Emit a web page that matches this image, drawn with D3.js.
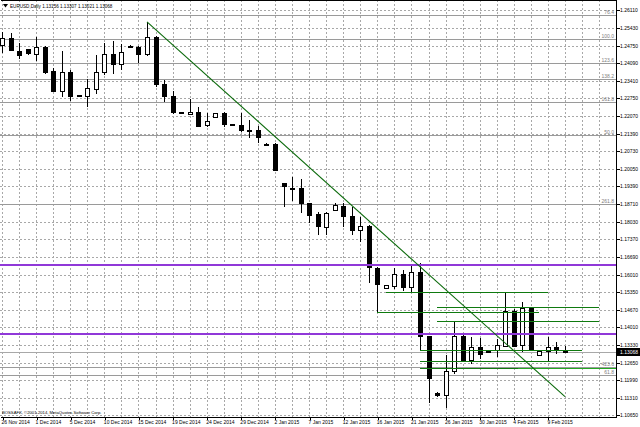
<!DOCTYPE html>
<html>
<head>
<meta charset="utf-8">
<script src="https://cdn.jsdelivr.net/npm/d3@7"></script>
<style>
	body { margin: 0; background: #fff; }
	svg text { font-family: "Liberation Sans", Arial, sans-serif; font-size: 5px; fill: #000; }
	.fibo text { fill: #808080; }
</style>
</head>
<body>
<div id="chart"></div>
<script>

// one bar per trading day (sunday bars included), 26 Nov 2014 - 11 Feb 2015
var dates = ["2014-11-26","2014-11-27","2014-11-28","2014-11-30","2014-12-01","2014-12-02","2014-12-03","2014-12-04","2014-12-05","2014-12-07",
	"2014-12-08","2014-12-09","2014-12-10","2014-12-11","2014-12-12","2014-12-14","2014-12-15","2014-12-16","2014-12-17","2014-12-18",
	"2014-12-19","2014-12-21","2014-12-22","2014-12-23","2014-12-24","2014-12-25","2014-12-26","2014-12-28","2014-12-29","2014-12-30",
	"2014-12-31","2015-01-01","2015-01-02","2015-01-04","2015-01-05","2015-01-06","2015-01-07","2015-01-08","2015-01-09","2015-01-11",
	"2015-01-12","2015-01-13","2015-01-14","2015-01-15","2015-01-16","2015-01-18","2015-01-19","2015-01-20","2015-01-21","2015-01-22",
	"2015-01-23","2015-01-25","2015-01-26","2015-01-27","2015-01-28","2015-01-29","2015-01-30","2015-02-01","2015-02-02","2015-02-03",
	"2015-02-04","2015-02-05","2015-02-06","2015-02-08","2015-02-09","2015-02-10","2015-02-11"];

var opens = [1.2478,1.2503,1.2456,1.2461,1.2442,1.2471,1.2379,1.2303,1.2376,1.2285,
	1.2280,1.2312,1.2376,1.2443,1.2405,1.2474,1.2471,1.2446,1.2509,1.2329,
	1.2284,1.2221,1.2217,1.2223,1.2172,1.2202,1.2219,1.2177,1.2172,1.2154,
	1.2153,1.2101,1.2100,1.1952,1.1932,1.1931,1.1874,1.1833,1.1784,1.1848,
	1.1863,1.1825,1.1772,1.1787,1.1626,1.1552,1.1559,1.1604,1.1553,1.1610,
	1.1367,1.1151,1.1142,1.1235,1.1367,1.1276,1.1324,1.1312,1.1314,1.1332,
	1.1464,1.1332,1.1473,1.1295,1.1308,1.1324,1.13156];

var highs = [1.2527,1.2522,1.2486,1.2464,1.2507,1.2474,1.2389,1.2456,1.2382,1.2287,
	1.2347,1.2439,1.2484,1.2494,1.2481,1.2476,1.2474,1.2566,1.2512,1.2344,
	1.2303,1.2222,1.2270,1.2242,1.2217,1.2218,1.2222,1.2178,1.2217,1.2191,
	1.2169,1.2102,1.2102,1.1953,1.1973,1.1965,1.1875,1.1842,1.1842,1.1874,
	1.1874,1.1861,1.1823,1.1789,1.1631,1.1562,1.1626,1.1619,1.1638,1.1647,
	1.1367,1.1155,1.1295,1.1422,1.1378,1.1365,1.1359,1.1314,1.1355,1.1533,
	1.1469,1.1496,1.1479,1.1312,1.1362,1.1346,1.13307];

var lows = [1.2447,1.2455,1.2423,1.2441,1.2418,1.2367,1.2299,1.2280,1.2265,1.2281,
	1.2240,1.2291,1.2363,1.2367,1.2382,1.2470,1.2410,1.2436,1.2318,1.2261,
	1.2214,1.2218,1.2214,1.2164,1.2166,1.2201,1.2166,1.2174,1.2147,1.2122,
	1.2105,1.2098,1.1997,1.1861,1.1884,1.1836,1.1797,1.1753,1.1753,1.1846,
	1.1784,1.1753,1.1727,1.1568,1.1460,1.1551,1.1546,1.1540,1.1536,1.1314,
	1.1113,1.1136,1.1092,1.1223,1.1268,1.1261,1.1279,1.1308,1.1286,1.1327,
	1.1329,1.1306,1.1310,1.1294,1.1273,1.1299,1.13021];

var closes = [1.2503,1.2456,1.2439,1.2444,1.2469,1.2376,1.2303,1.2376,1.2283,1.2283,
	1.2312,1.2376,1.2443,1.2404,1.2452,1.2472,1.2446,1.2509,1.2331,1.2284,
	1.2223,1.2219,1.2223,1.2169,1.2189,1.2217,1.2176,1.2176,1.2153,1.2153,
	1.2125,1.2100,1.2001,1.1940,1.1931,1.1874,1.1829,1.1787,1.1838,1.1867,
	1.1825,1.1772,1.1787,1.1630,1.1566,1.1562,1.1604,1.1556,1.1610,1.1367,
	1.1208,1.1144,1.1235,1.1367,1.1272,1.1324,1.1299,1.1311,1.1332,1.1464,
	1.1332,1.1473,1.1314,1.1311,1.1324,1.1314,1.13068];

// price scale labels
var priceTicks = [1.26110,1.25430,1.24750,1.24090,1.23410,1.22750,1.22070,1.21390,1.20730,1.20050,1.19390,1.18710,
	1.18030,1.17370,1.16690,1.16010,1.15350,1.14670,1.14010,1.13330,1.12650,1.11990,1.11310,1.10650];

// fibo levels (gray) and their labels
var fiboPrices = [1.25919,1.24992,1.24077,1.23489,1.22612,1.21342,1.18710,1.12481,1.12176];
var fiboLabels = ["76.4","100.0","123.6","138.2","161.8","50.0","261.8","423.6","61.8"];

// horizontal support / resistance lines
var purplePrices = [1.16372,1.13751];
var greenPrices = [1.15365,1.14769,1.14600,1.14247,1.13141,1.12722,1.12472,1.12472];
var greenFrom   = [45,51,44,51,49,49,49,60.5];
var greenTo     = [64,70,63,70,68,68,60.5,72];
var greenColors = ["#0f7a0f","#0f7a0f","#0f7a0f","#0f7a0f","#0f7a0f","#0f7a0f","#0f7a0f","#22a822"];

// trend line from the 16 Dec high down to 11 Feb
var trendBars = [17, 66];
var trendPrices = [1.2566, 1.11359];

var bidPrice = 1.13068;
var title = "EURUSD,Daily  1.13156 1.13307 1.13021 1.13068";
var copyright = "BOSSAFX, \u00a92001-2014, MetaQuotes Software Corp.";

var Chart = function() {

	var svg, x, y,
		width = 640, height = 427,
		right = 616.5, bottom = 417,
		parseDate = d3.timeParse("%Y-%m-%d"),
		formatDate = d3.timeFormat("%-d %b %Y");

	// snap to pixel centre so 1px lines stay crisp
	var px = function(v) { return Math.round(v) + 0.5; };

	var hline = function(g, price, x1, x2, color, w) {
		g.append("line")
		.attr("x1", x1).attr("x2", x2)
		.attr("y1", px(y(price))).attr("y2", px(y(price)))
		.attr("stroke", color)
		.attr("stroke-width", w);
	};

	var initialize = function() {
		x = d3.scaleLinear().domain([0, 66]).range([2, 565]);
		y = d3.scaleLinear().domain([1.10650, 1.26110]).range([415.3, 10]);

		svg = d3.select("#chart").append("svg")
		.attr("width", width)
		.attr("height", height);
	};

	var render = function() {

		var bars = dates.map(function(d, i) {
			return {i: i, date: parseDate(d), o: opens[i], h: highs[i], l: lows[i], c: closes[i]};
		});

		// dotted grid
		var grid = svg.append("g").attr("class", "grid")
		.attr("stroke", "#a8a8a8").attr("stroke-dasharray", "2,2").attr("shape-rendering", "crispEdges");
		grid.selectAll(".h").data(priceTicks).enter().append("line")
		.attr("x1", 0).attr("x2", right)
		.attr("y1", function(d) { return px(y(d)); })
		.attr("y2", function(d) { return px(y(d)); });
		grid.selectAll(".v").data(d3.range(0, 73, 2)).enter().append("line")
		.attr("x1", function(d) { return px(x(d)); })
		.attr("x2", function(d) { return px(x(d)); })
		.attr("y1", 0).attr("y2", bottom);

		// fibo lines with labels
		var fibo = svg.append("g").attr("class", "fibo").attr("shape-rendering", "crispEdges");
		fiboPrices.forEach(function(p, k) {
			hline(fibo, p, 0, right, "#9a9a9a", 1);
			fibo.append("text")
			.attr("x", 614).attr("y", px(y(p)) - 1.5)
			.attr("text-anchor", "end")
			.text(fiboLabels[k]);
		});

		// bid line
		hline(svg.append("g").attr("shape-rendering", "crispEdges"), bidPrice, 0, right, "#a8a8a8", 1);

		// candles
		var candles = svg.append("g").attr("class", "candles").attr("shape-rendering", "crispEdges");
		candles.selectAll("line").data(bars).enter().append("line")
		.attr("x1", function(d) { return px(x(d.i)); })
		.attr("x2", function(d) { return px(x(d.i)); })
		.attr("y1", function(d) { return Math.round(y(d.h)); })
		.attr("y2", function(d) { return Math.round(y(d.l)); })
		.attr("stroke", "#000");
		candles.selectAll("rect").data(bars).enter().append("rect")
		.attr("x", function(d) { return px(x(d.i)) - 2; })
		.attr("y", function(d) { return px(y(Math.max(d.o, d.c))); })
		.attr("width", 4)
		.attr("height", function(d) { return Math.max(1, Math.round(Math.abs(y(d.o) - y(d.c)))); })
		.attr("fill", function(d) { return d.c >= d.o ? "#fff" : "#000"; })
		.attr("stroke", "#000");

		// purple levels
		var objs = svg.append("g").attr("class", "objects");
		purplePrices.forEach(function(p) {
			objs.append("line")
			.attr("x1", 0).attr("x2", right)
			.attr("y1", Math.round(y(p))).attr("y2", Math.round(y(p)))
			.attr("stroke", "#9038d8").attr("stroke-width", 2.2);
		});

		// green levels
		var greens = objs.append("g").attr("shape-rendering", "crispEdges");
		greenPrices.forEach(function(p, k) {
			hline(greens, p, x(greenFrom[k]), Math.min(right, x(greenTo[k])), greenColors[k], 1);
		});

		// trend line
		objs.append("line")
		.attr("x1", x(trendBars[0])).attr("y1", y(trendPrices[0]))
		.attr("x2", x(trendBars[1])).attr("y2", y(trendPrices[1]))
		.attr("stroke", "#0b6a0b").attr("stroke-width", 1.1);

		// price axis on the right
		var yAxis = d3.axisRight(y).tickValues(priceTicks).tickFormat(d3.format(".5f")).tickSize(3).tickPadding(0.5);
		var ya = svg.append("g")
		.attr("class", "y axis")
		.attr("transform", "translate(" + right + ",0)")
		.attr("shape-rendering", "crispEdges")
		.call(yAxis);
		ya.select(".domain").remove();

		// date axis, label every 4th bar
		var xAxis = d3.axisBottom(x)
		.tickValues(d3.range(0, bars.length, 4))
		.tickFormat(function(i) { return formatDate(bars[i].date); })
		.tickSize(3);
		var xa = svg.append("g")
		.attr("class", "x axis")
		.attr("transform", "translate(0," + bottom + ")")
		.attr("shape-rendering", "crispEdges")
		.call(xAxis);
		xa.select(".domain").remove();
		xa.selectAll(".tick line").attr("transform", "translate(0.5,0)");
		xa.selectAll("text")
		.attr("text-anchor", "start")
		.attr("x", -1)
		.attr("y", 6.5)
		.attr("dy", null);

		// chart frame
		svg.append("path")
		.attr("d", "M0.5,0.5H" + right + "V" + bottom + "H0.5")
		.attr("fill", "none")
		.attr("stroke", "#000")
		.attr("shape-rendering", "crispEdges");

		// current bid box
		var by = y(bidPrice);
		svg.append("rect")
		.attr("x", right + 0.5).attr("y", Math.round(by) - 4)
		.attr("width", 23).attr("height", 8)
		.attr("fill", "#000");
		svg.append("text")
		.attr("x", 620).attr("y", by + 1.8)
		.style("fill", "#fff")
		.text(d3.format(".5f")(bidPrice));

		// title and copyright
		svg.append("path")
		.attr("d", "M3,4H8L5.5,7.5Z")
		.attr("fill", "#000");
		svg.append("text")
		.attr("x", 10).attr("y", 7.8)
		.style("font-size", "4.6px")
		.text(title);
		svg.append("text")
		.attr("x", 2).attr("y", 414)
		.style("font-size", "4.2px")
		.text(copyright);
	};

	return {
		initialize: initialize,
		render: render
	};
};

var chart = Chart();
chart.initialize();
chart.render();

</script>
</body>
</html>
